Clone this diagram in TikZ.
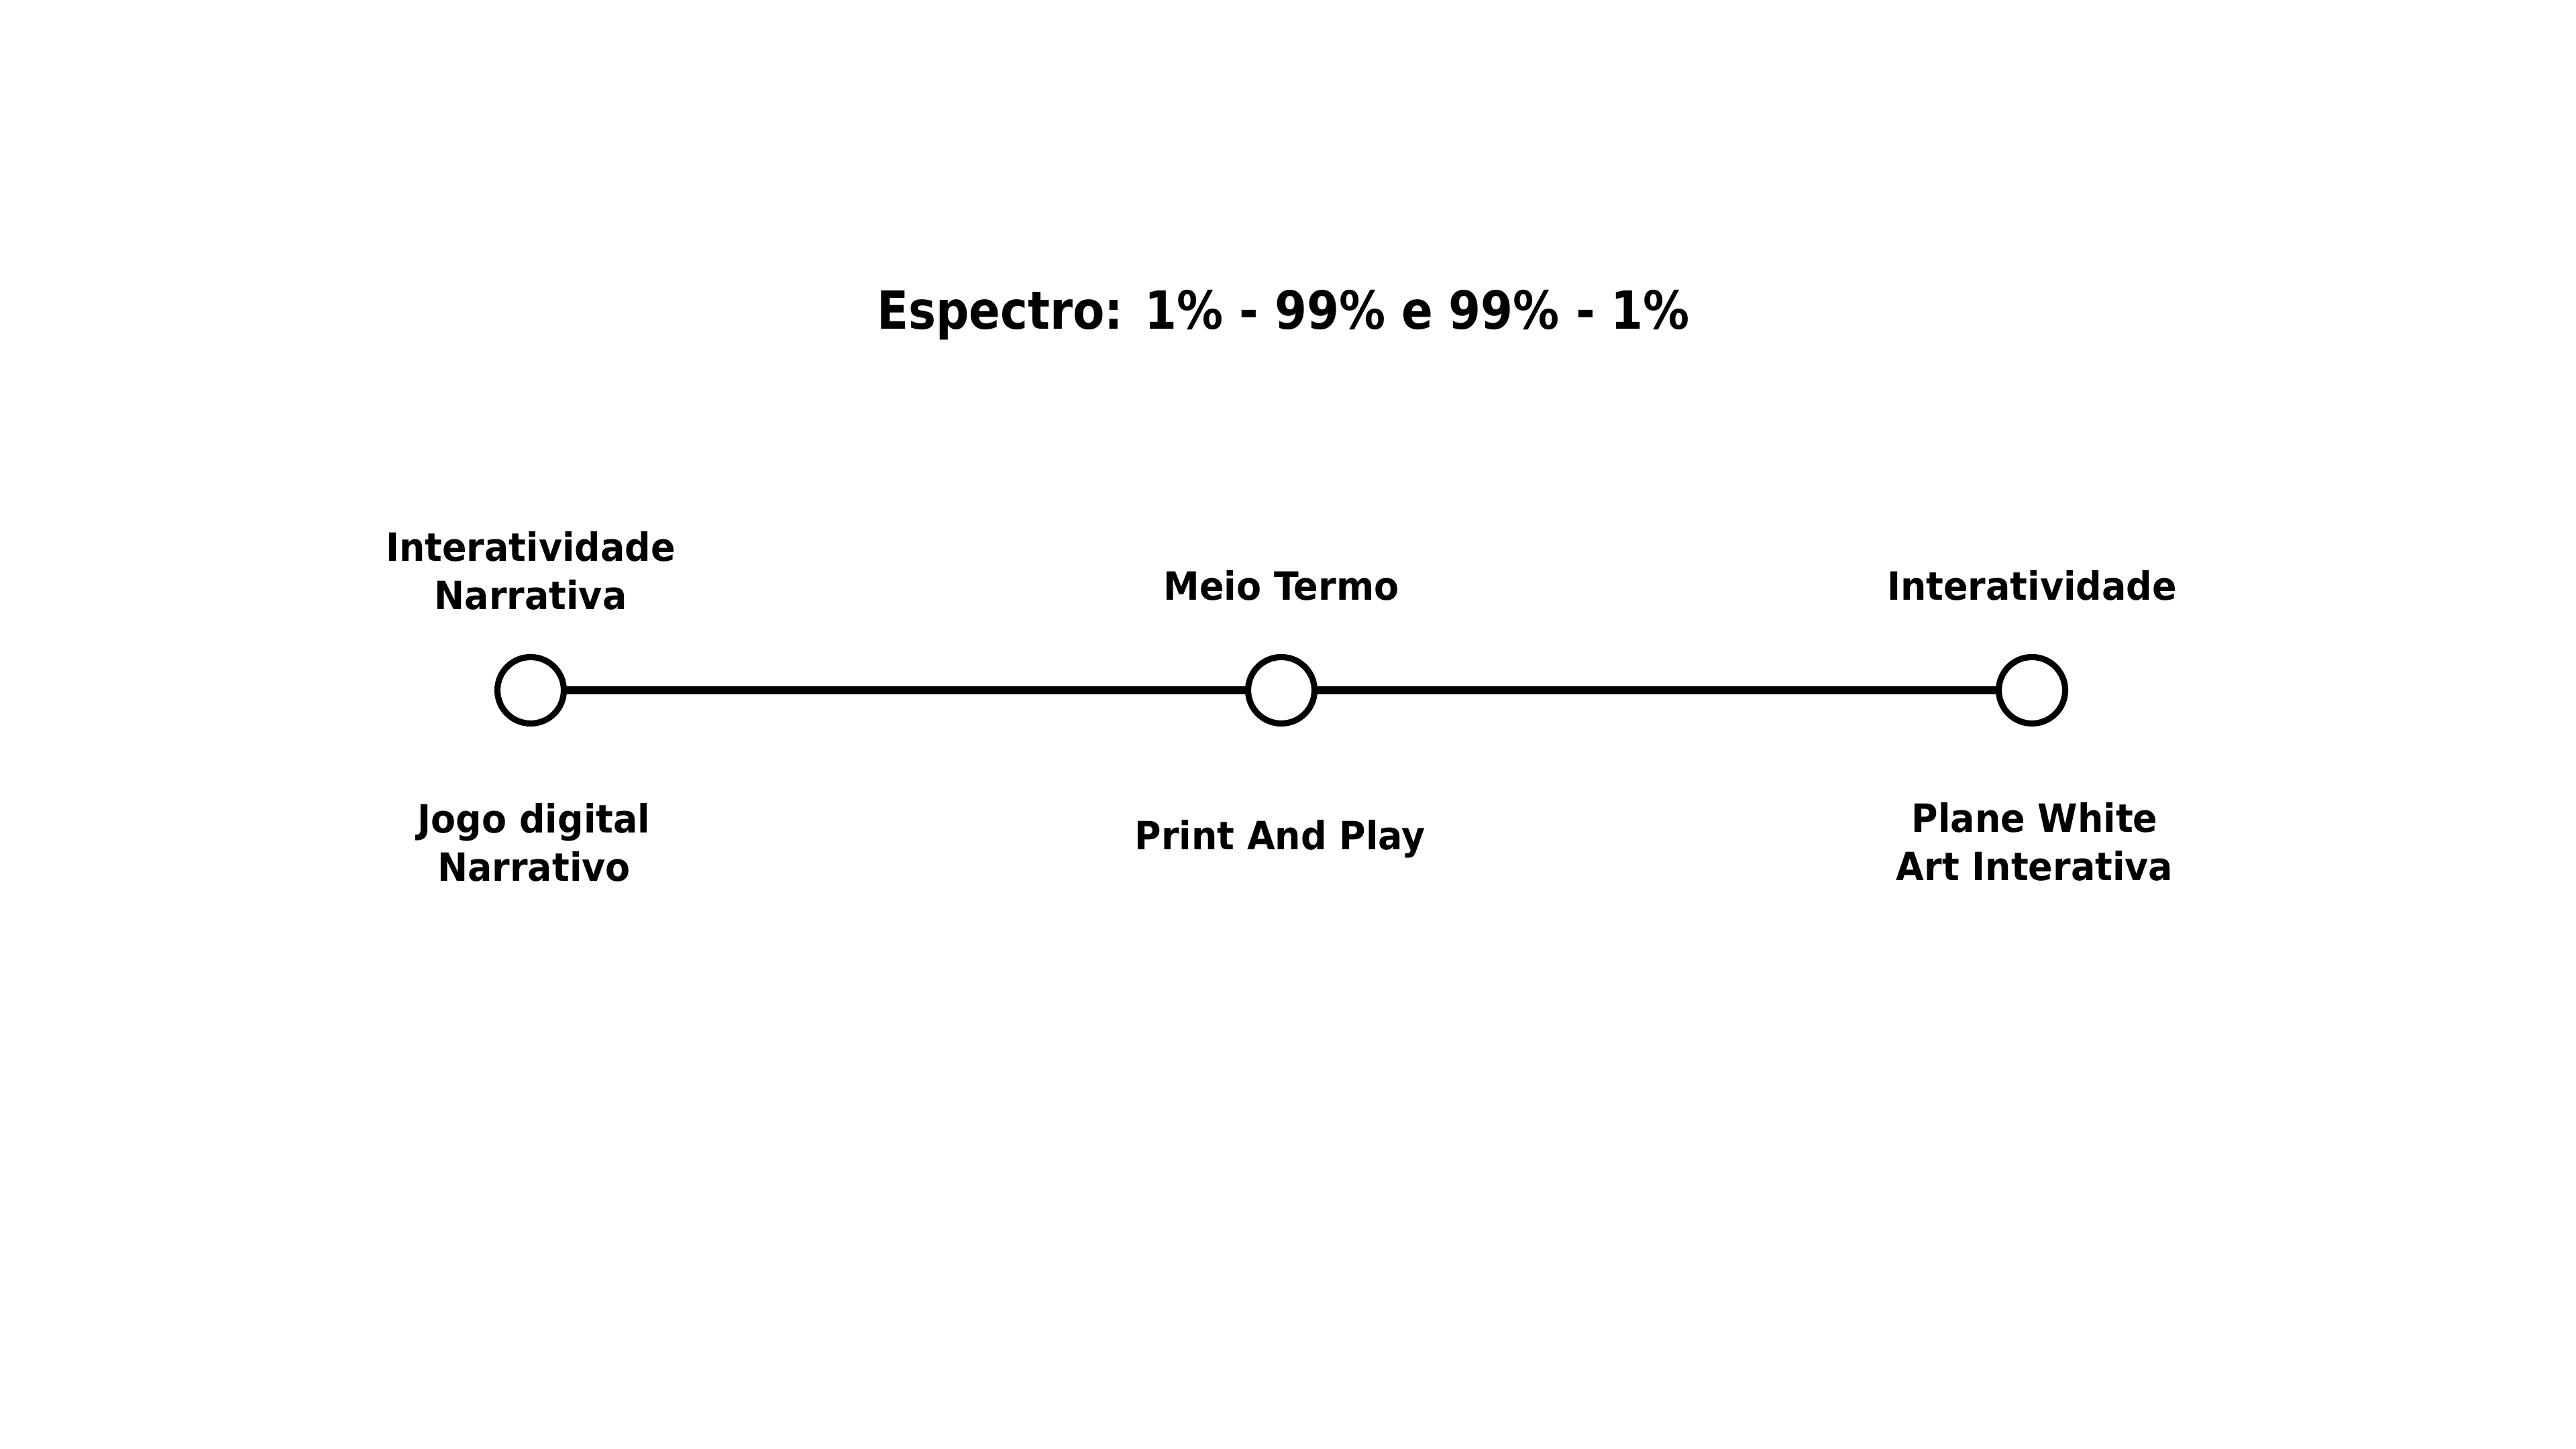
\documentclass[tikz,border=0pt]{standalone}
\usepackage{fontspec}
\setmainfont{DejaVu Sans}
\newfontfamily\titlefont[FakeStretch=0.88]{DejaVu Sans}
\newfontfamily\labelfont[FakeStretch=0.93]{DejaVu Sans}
\begin{document}
\begin{tikzpicture}[x=1cm,y=1cm,
  dot/.style={circle,draw=black,line width=2.6pt,fill=white,minimum size=0.99cm,inner sep=0pt},
  conn/.style={line width=3.4pt,black},
  lbl/.style={font=\labelfont\bfseries\fontsize{16.5}{20.5}\selectfont,align=center,inner sep=0pt},
  ttl/.style={font=\titlefont\bfseries\fontsize{22.3}{27}\selectfont,inner sep=0pt}]
\useasboundingbox[fill=white] (0,0) rectangle (38.4,21.6);
\node[ttl,anchor=base] (title) at (19.13,16.69) {Espectro: 1\% - 99\% e 99\% - 1\%};
\node[dot] (a) at (7.91,11.31) {};
\node[dot] (b) at (19.10,11.31) {};
\node[dot] (c) at (30.29,11.31) {};
\draw[conn] (a) -- (b);
\draw[conn] (b) -- (c);
\node[lbl,anchor=base] (ta) at (7.91,12.51) {Interatividade\\Narrativa};
\node[lbl,anchor=base] (tb) at (19.10,12.65) {Meio Termo};
\node[lbl,anchor=base] (tc) at (30.29,12.65) {Interatividade};
\node[lbl,anchor=base] (ba) at (7.96,8.46) {Jogo digital\\Narrativo};
\node[lbl,anchor=base] (bb) at (19.08,8.93) {Print And Play};
\node[lbl,anchor=base] (bc) at (30.33,8.47) {Plane White\\Art Interativa};
\end{tikzpicture}
\end{document}
